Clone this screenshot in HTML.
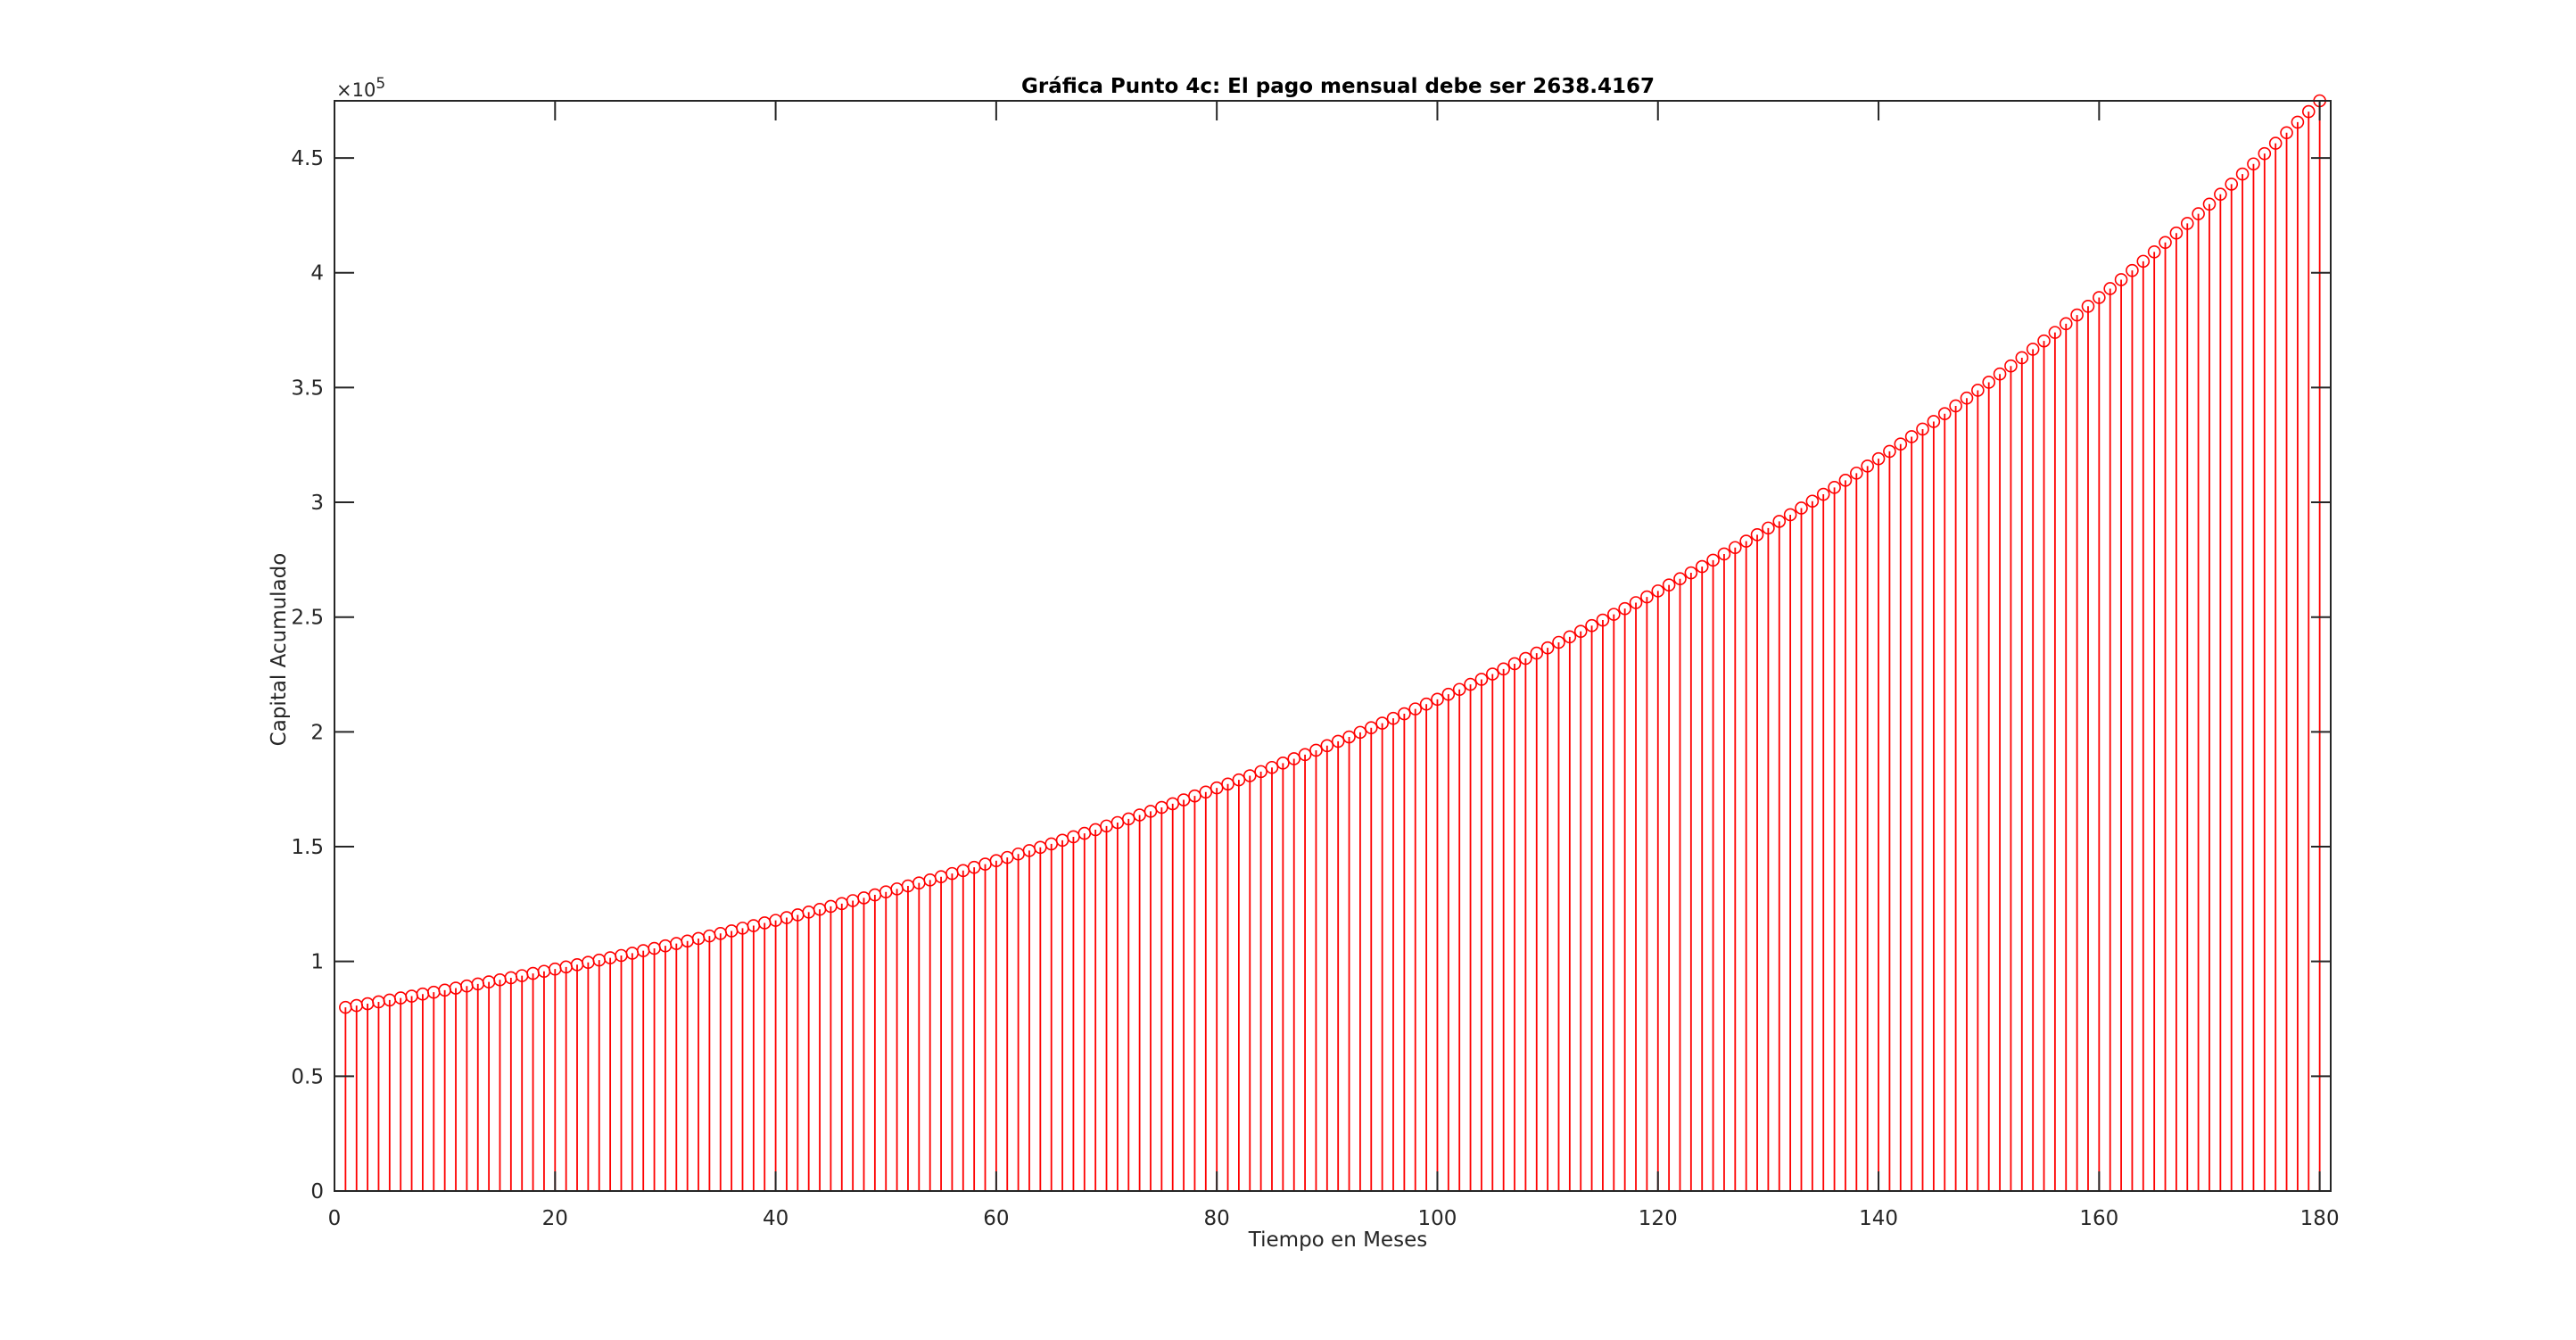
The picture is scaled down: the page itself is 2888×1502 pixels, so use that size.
<!DOCTYPE html>
<html><head><meta charset="utf-8"><style>
html,body{margin:0;padding:0;background:#fff;}
svg{display:block;font-family:"DejaVu Sans","Liberation Sans",sans-serif;}
</style></head><body>
<svg id="chart" width="2888" height="1502" viewBox="0 0 2888 1502" xmlns="http://www.w3.org/2000/svg">
<rect x="0" y="0" width="2888" height="1502" fill="#fff"/>
<g id="stems"></g>
<g id="axes"></g>
</svg>
<script>
// Capital acumulado (thousands) per month 1..180
const capitalK = [80.0,80.8,81.6,82.4,83.2,84.1,84.9,85.8,86.6,87.5,
88.4,89.3,90.2,91.1,92.0,92.9,93.8,94.8,95.7,96.7,
97.6,98.6,99.6,100.6,101.6,102.6,103.6,104.7,105.7,106.8,
107.8,108.9,110.0,111.1,112.2,113.3,114.5,115.6,116.8,117.9,
119.1,120.3,121.5,122.7,124.0,125.2,126.5,127.7,129.0,130.3,
131.6,132.9,134.2,135.5,136.9,138.3,139.6,141.0,142.4,143.9,
145.3,146.8,148.3,149.7,151.2,152.8,154.3,155.8,157.4,159.0,
160.5,162.1,163.8,165.4,167.1,168.7,170.4,172.1,173.8,175.6,
177.3,179.1,180.9,182.7,184.5,186.4,188.3,190.1,192.0,194.0,
195.9,197.8,199.8,201.8,203.8,205.9,207.9,210.0,212.1,214.2,
216.4,218.5,220.7,222.9,225.2,227.4,229.7,232.0,234.3,236.6,
239.0,241.4,243.8,246.3,248.7,251.2,253.7,256.3,258.8,261.4,
264.0,266.7,269.3,272.0,274.8,277.5,280.3,283.1,285.9,288.8,
291.7,294.6,297.5,300.5,303.5,306.5,309.6,312.7,315.8,319.0,
322.2,325.4,328.6,331.9,335.2,338.6,342.0,345.4,348.8,352.3,
355.9,359.4,363.0,366.7,370.3,374.0,377.8,381.6,385.4,389.2,
393.1,397.0,401.0,405.0,409.1,413.2,417.3,421.5,425.7,429.9,
434.2,438.6,443.0,447.4,451.9,456.4,461.0,465.6,470.2,474.9];
const xTicks = [0,20,40,60,80,100,120,140,160,180];
const yTicks = [0,0.5,1,1.5,2,2.5,3,3.5,4,4.5];
const yTickLabels = ["0","0.5","1","1.5","2","2.5","3","3.5","4","4.5"];

const NS="http://www.w3.org/2000/svg";
const L=375,R=2613,T=113,B=1335;
const xMax=181;
const yMax=Math.max(...capitalK)/100; // in units of 1e5
const xs=v=>L+(v/xMax)*(R-L);
const ys=v=>B-(v/yMax)*(B-T);
function mk(tag,attrs,parent){const e=document.createElementNS(NS,tag);for(const k in attrs)e.setAttribute(k,attrs[k]);parent.appendChild(e);return e;}
const stems=document.getElementById('stems');
const axes=document.getElementById('axes');
capitalK.forEach((v,i)=>{
  const x=xs(i+1),y=ys(v/100);
  const ln=mk('line',{x1:x,y1:B,x2:x,y2:y,stroke:'#ff0000','stroke-width':1.8},stems);
  
  
  const c=mk('circle',{cx:x,cy:y,r:6.5,fill:'none',stroke:'#ff0000','stroke-width':1.6},stems);
  
  
});
const box=mk('rect',{x:L,y:T,width:R-L,height:B-T,fill:'none',stroke:'#262626','stroke-width':2},axes);


const tl=22;
xTicks.forEach(t=>{
  const x=xs(t);
  const a=mk('line',{x1:x,y1:B,x2:x,y2:B-tl,stroke:'#262626','stroke-width':2},axes);
  
  
  const b=mk('line',{x1:x,y1:T,x2:x,y2:T+tl,stroke:'#262626','stroke-width':2},axes);
  
  
  const tx=mk('text',{x:x,y:B+38,'text-anchor':'middle','font-size':23,fill:'#262626'},axes);
  tx.textContent=t;
  
  
});
yTicks.forEach((t,i)=>{
  const y=ys(t);
  const a=mk('line',{x1:L,y1:y,x2:L+tl,y2:y,stroke:'#262626','stroke-width':2},axes);
  
  
  const b=mk('line',{x1:R,y1:y,x2:R-tl,y2:y,stroke:'#262626','stroke-width':2},axes);
  
  
  const tx=mk('text',{x:L-12,y:y+8,'text-anchor':'end','font-size':23,fill:'#262626'},axes);
  tx.textContent=yTickLabels[i];
  
  
});
</script>
<svg style="position:absolute;left:0;top:0" width="2888" height="1502">
<text x="1500" y="104" text-anchor="middle" font-size="23" font-weight="bold" fill="#000" font-family="DejaVu Sans, sans-serif">Gráfica Punto 4c: El pago mensual debe ser 2638.4167</text>
<text x="1500" y="1397" text-anchor="middle" font-size="23" fill="#262626" font-family="DejaVu Sans, sans-serif">Tiempo en Meses</text>
<text x="320" y="728" text-anchor="middle" font-size="23" fill="#262626" font-family="DejaVu Sans, sans-serif" transform="rotate(-90 320 728)">Capital Acumulado</text>
<text x="377" y="108" font-size="21" fill="#262626" font-family="DejaVu Sans, sans-serif">×10<tspan font-size="17" dy="-9">5</tspan></text>
</svg>
</body></html>
